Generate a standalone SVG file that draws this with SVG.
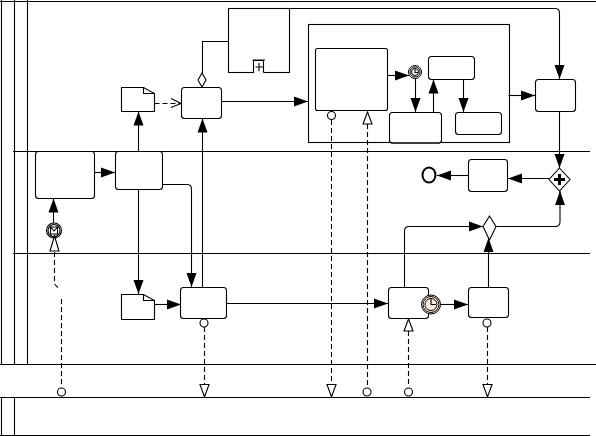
<svg xmlns="http://www.w3.org/2000/svg" width="596" height="436" viewBox="0 0 596 436">
<style>
.l{fill:none;stroke:#000;stroke-width:1.1}
.d{fill:none;stroke:#000;stroke-width:1.1;stroke-dasharray:5 3}
.t{fill:#fff;stroke:#000;stroke-width:1.1}
.h{fill:#000;stroke:none}
</style>
<defs>
<marker id="a" markerUnits="userSpaceOnUse" markerWidth="16" markerHeight="12" refX="14" refY="6" orient="auto"><path class="h" d="M0 1L14 6L0 11z"/></marker>
</defs>
<rect width="596" height="436" fill="#fff"/>
<g id="pools">
<path class="l" d="M0 1.500H596M1.500 0V365M14.500 0V365M27.500 0V365M13 151.500H590M13 253.500H590M0 364.500H596M0 397.500H590M0 435.500H590M1.500 397V436M14.500 397V436"/>
</g>
<g id="connectors">
<path class="l" d="M289 8.500H555Q559.500 8.500 559.500 13V79" marker-end="url(#a)"/>
<path class="l" d="M228.500 41.500H202.500V73"/>
<path class="d" d="M154.500 103.500H181"/>
<path class="l" d="M171 98.500L181 103.500L171 107.500"/>
<path class="l" d="M221.500 101.500H308" marker-end="url(#a)"/>
<path class="l" d="M138.500 151.500V111.500" marker-end="url(#a)"/>
<path class="l" d="M202.500 287V118.500" marker-end="url(#a)"/>
<path class="l" d="M94.500 172.500H115" marker-end="url(#a)"/>
<path class="l" d="M162.500 184.500H187Q191.500 184.500 191.500 189V287" marker-end="url(#a)"/>
<path class="l" d="M138.500 189.500V294" marker-end="url(#a)"/>
<path class="l" d="M53.500 223V198.500" marker-end="url(#a)"/>
<path class="d" d="M54.500 252V284L60 290M61.500 299V385"/>
<path class="l" d="M154.500 304.500H181" marker-end="url(#a)"/>
<path class="l" d="M226.500 303.500H388" marker-end="url(#a)"/>
<path class="d" d="M204.500 327V384"/>
<path class="l" d="M440 304.500H468" marker-end="url(#a)"/>
<path class="l" d="M488.500 287V238" marker-end="url(#a)"/>
<path class="l" d="M404.500 287V231Q404.500 226.500 409 226.500H483" marker-end="url(#a)"/>
<path class="d" d="M487.500 327V384"/>
<path class="d" d="M408.500 331V385"/>
<path class="l" d="M496 226.500H555Q560 226.500 560 222V191" marker-end="url(#a)"/>
<path class="l" d="M559.500 111V168" marker-end="url(#a)"/>
<path class="l" d="M549 178.500H508" marker-end="url(#a)"/>
<path class="l" d="M468.500 175.500H437" marker-end="url(#a)"/>
<path class="l" d="M508.500 95.500H535" marker-end="url(#a)"/>
<path class="l" d="M387.500 75.500H409" marker-end="url(#a)"/>
<path class="l" d="M415.500 79V112" marker-end="url(#a)"/>
<path class="l" d="M433.500 112V79.500" marker-end="url(#a)"/>
<path class="l" d="M463.500 79.500V112" marker-end="url(#a)"/>
<path class="d" d="M331.500 120V384"/>
<path class="d" d="M367.500 124V385"/>
</g>
<g id="expanded-subprocess"><rect class="l" x="308.500" y="24.500" width="201" height="118"/></g>
<g id="collapsed"><rect class="t" x="228.500" y="8.500" width="61" height="64"/><path d="M254 72.500H263.500" stroke="#fff" stroke-width="2"/><path class="l" d="M253.500 72.500V60.500H263.500V72.500M252.500 60H265M259 63V71M255.500 67H263"/></g>
<g id="task-a"><rect class="t" x="181.500" y="87.500" width="40" height="31" rx="3"/></g>
<g id="doc-a"><path class="t" d="M121.500 87.500H143.500L154.500 93.500V111.500H121.500z"/><path class="l" d="M143.500 87.500V93.500H154.500"/></g>
<g id="assoc-a"><path class="t" d="M202 73L206 80L202 87L198 80z"/></g>
<g id="task-b"><rect class="t" x="35.500" y="151.500" width="59" height="47" rx="3"/></g>
<g id="task-c"><rect class="t" x="115.500" y="151.500" width="47" height="38" rx="3"/></g>
<g id="event-msg"><circle class="t" cx="54" cy="230.500" r="7.500"/><circle class="l" cx="54" cy="230.500" r="6"/><path class="l" d="M50.500 227H57.500V234H50.500zM50.500 227L54 231L57.500 227"/></g>
<g id="msg-a"><path class="t" d="M54.500 236L59 251H50z"/></g>
<g id="doc-b"><path class="t" d="M121.500 294.500H143.500L154.500 300.500V319.500H121.500z"/><path class="l" d="M143.500 294.500V300.500H154.500"/></g>
<g id="task-d"><rect class="t" x="180.500" y="287.500" width="46" height="31" rx="3"/><circle class="t" cx="204" cy="323" r="4"/></g>
<g id="task-e"><rect class="t" x="388.500" y="287.500" width="40" height="31" rx="3"/></g>
<g id="timer"><circle cx="431" cy="304.500" r="9.500" fill="#fbeee0" stroke="#000"/><circle cx="431" cy="304.500" r="8" fill="none" stroke="#000"/><circle cx="431" cy="304.500" r="6" fill="#fbeee0" stroke="#000"/><path class="l" d="M431 299V304.500H436"/></g>
<g id="task-f"><rect class="t" x="468.500" y="287.500" width="40" height="30" rx="3"/><circle class="t" cx="487" cy="323" r="4"/></g>
<g id="gateway-x"><path class="t" d="M489.500 216L496 226.500L489.500 240L483 226.500z"/></g>
<g id="gateway-plus"><path class="t" d="M559.500 168L570 179.500L559.500 191L549 179.500z"/><path d="M558 174H561V178H565V181H561V185H558V181H554V178H558z"/></g>
<g id="task-g"><rect class="t" x="468.500" y="159.500" width="39" height="32" rx="3"/></g>
<g id="end"><ellipse cx="429" cy="175" rx="6.500" ry="7.500" fill="#fff" stroke="#000" stroke-width="2"/></g>
<g id="task-h"><rect class="t" x="535.500" y="79.500" width="40" height="32" rx="3"/></g>
<g id="inner-a"><rect class="t" x="315.500" y="48.500" width="72" height="62" rx="2"/><circle class="t" cx="331.500" cy="115.500" r="4"/><path class="t" d="M367.500 112L372 124H363z"/></g>
<g id="event-timer"><circle cx="415" cy="72" r="6.500" fill="#fff" stroke="#000"/><circle cx="415" cy="72" r="5" fill="none" stroke="#000"/><circle cx="415" cy="72" r="3.500" fill="none" stroke="#000"/><path class="l" d="M415 69V72.500H418"/></g>
<g id="inner-b"><rect class="t" x="389.500" y="112.500" width="52" height="30.500" rx="3"/><path class="l" d="M391 143H440"/></g>
<g id="inner-c"><rect class="t" x="428.500" y="56.500" width="46" height="23" rx="3"/></g>
<g id="inner-d"><rect class="t" x="455.500" y="112.500" width="46" height="22" rx="3"/></g>
<g id="msg-b"><path class="t" d="M408.500 319L413 331H404z"/></g>
<g id="flows">
<circle class="t" cx="61.500" cy="392" r="4"/><circle class="t" cx="367" cy="392" r="4"/><circle class="t" cx="408.500" cy="392" r="4"/>
<path class="t" d="M200 384.500H209L204.500 397z"/><path class="t" d="M327 384.500H336L331.500 397z"/><path class="t" d="M483 384.500H492L487.500 397z"/>
</g>
</svg>
